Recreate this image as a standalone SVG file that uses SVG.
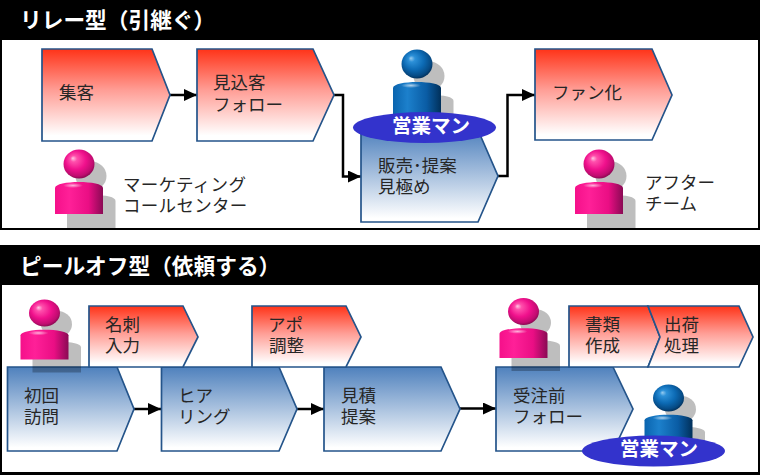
<svg xmlns="http://www.w3.org/2000/svg" width="760" height="475" viewBox="0 0 760 475">
<style>
.t{font-family:"Noto Sans CJK JP","Noto Sans",sans-serif;font-size:17.5px;fill:#262626}
.h{font-family:"Noto Sans CJK JP","Noto Sans",sans-serif;font-size:21.7px;font-weight:700;fill:#fff}
.b{font-family:"Noto Sans CJK JP","Noto Sans",sans-serif;font-size:19.5px;font-weight:700;fill:#fff}
.r{fill:url(#red);stroke:#24548a;stroke-width:1.7}
.u{fill:url(#blue);stroke:#24548a;stroke-width:1.7}
.e{fill:#3333cc}
.c{fill:none;stroke:#000;stroke-width:2.5;marker-end:url(#arr)}
.band{fill:#000}
.panel{fill:#fff}
</style>
<defs>
<linearGradient id="red" x1="0" y1="0" x2="0" y2="1"><stop offset="0" stop-color="#ff3318"/><stop offset=".45" stop-color="#ff9e96"/><stop offset=".94" stop-color="#fff"/></linearGradient>
<linearGradient id="blue" x1="0" y1="0" x2="0" y2="1"><stop offset="0" stop-color="#4f81bd"/><stop offset=".96" stop-color="#fff"/></linearGradient>
<linearGradient id="pb" x1="0" y1="0" x2="1" y2="0"><stop offset="0" stop-color="#f5108a"/><stop offset=".3" stop-color="#ff2098"/><stop offset=".7" stop-color="#ea0e84"/><stop offset="1" stop-color="#8a0a54"/></linearGradient>
<linearGradient id="ub" x1="0" y1="0" x2="1" y2="0"><stop offset="0" stop-color="#0a64ae"/><stop offset=".3" stop-color="#1c80cc"/><stop offset=".7" stop-color="#0a5ca4"/><stop offset="1" stop-color="#01305a"/></linearGradient>
<radialGradient id="ph" cx=".47" cy=".42" r=".6" fx=".3" fy=".3"><stop offset="0" stop-color="#ffc8e4"/><stop offset=".18" stop-color="#ff50ac"/><stop offset=".55" stop-color="#f0108c"/><stop offset=".85" stop-color="#c00c70"/><stop offset="1" stop-color="#80084c"/></radialGradient>
<radialGradient id="uh" cx=".47" cy=".42" r=".6" fx=".3" fy=".3"><stop offset="0" stop-color="#98ccf0"/><stop offset=".18" stop-color="#2c90d8"/><stop offset=".55" stop-color="#0c6ab4"/><stop offset=".85" stop-color="#064a84"/><stop offset="1" stop-color="#012c54"/></radialGradient>
<radialGradient id="gl"><stop offset="0" stop-color="#fff" stop-opacity=".65"/><stop offset="1" stop-color="#fff" stop-opacity="0"/></radialGradient>
<marker id="arr" viewBox="0 0 13 12" refX="13" refY="6" markerUnits="userSpaceOnUse" markerWidth="13" markerHeight="12" orient="auto"><path d="M0 0L13 6L0 12Z" fill="#000"/></marker>
<g id="sh" fill="#000" opacity=".25">
<path d="M-12 64V37C-12 33-4 31 12 31C28 31 36.500 33 36.500 37V64Z"/>
<ellipse cx="12" cy="12" rx="15.500" ry="14.500"/>
</g>
<g id="man-p">
<use href="#sh"/>
<ellipse cx="0" cy="0" rx="15.500" ry="14.500" fill="url(#ph)"/>
<path d="M-24 50V24C-24 20-12 18 0 18C12 18 24 20 24 24V50Z" fill="url(#pb)"/>
<ellipse cx="-6" cy="21.500" rx="10" ry="2.500" fill="url(#gl)"/>
</g>
<g id="man-u">
<use href="#sh"/>
<ellipse cx="0" cy="0" rx="15.500" ry="14.500" fill="url(#uh)"/>
<path d="M-24 50V24C-24 20-12 18 0 18C12 18 24 20 24 24V50Z" fill="url(#ub)"/>
<ellipse cx="-6" cy="21.500" rx="10" ry="2.500" fill="url(#gl)"/>
</g>
</defs>
<rect width="760" height="475" fill="#fff"/>
<g id="relay-panel">
<rect class="band" x="0" y="0" width="760" height="230"/>
<rect class="panel" x="2" y="40" width="756" height="188"/>
<text class="h" x="20" y="28">リレー型（引継ぐ）</text>
</g>
<g id="peeloff-panel">
<rect class="band" x="0" y="245" width="760" height="230"/>
<rect class="panel" x="2" y="285" width="756" height="187"/>
<text class="h" x="20" y="274">ピールオフ型（依頼する）</text>
</g>
<g id="connectors">
<path class="c" d="M170 95H197"/>
<path class="c" d="M334 95H343V176.500H361"/>
<path class="c" d="M498 176H507.500V95H535"/>
<path class="c" d="M134 409H161"/>
<path class="c" d="M297 409H324"/>
<path class="c" d="M460 408.500H496"/>
</g>
<g id="n-shukyaku"><path class="r" d="M42 49H152L170 95L152 141H42Z"/><text class="t" x="59" y="99">集客</text></g>
<g id="n-mikomi"><path class="r" d="M197 49H313L334 95L313 141H197Z"/><text class="t" x="213" y="89">見込客</text><text class="t" x="213" y="111">フォロー</text></g>
<g id="p-marketing"><use href="#man-p" transform="translate(79,164)"/><text class="t" x="123" y="191" letter-spacing=".3">マーケティング</text><text class="t" x="123" y="212" letter-spacing=".3">コールセンター</text></g>
<g id="n-sales"><use href="#man-u" transform="translate(417,64)"/><path class="u" d="M361 130H478L498 176L478 222H361Z"/><text class="t" x="378" y="172">販売･提案</text><text class="t" x="378" y="193">見極め</text><ellipse class="e" cx="424.500" cy="127.500" rx="71.500" ry="15.500"/><text class="b" x="392" y="133">営業マン</text></g>
<g id="n-fan"><path class="r" d="M535 49H652L672 95L652 140H535Z"/><text class="t" x="552" y="99">ファン化</text></g>
<g id="p-after"><use href="#man-p" transform="translate(599,164)"/><text class="t" x="645" y="189">アフター</text><text class="t" x="645" y="210">チーム</text></g>
<g id="n-shokai"><path class="u" d="M7.500 367H117L134 409L117 451H7.500Z"/><text class="t" x="24" y="402">初回</text><text class="t" x="24" y="423">訪問</text></g>
<g id="n-hearing"><path class="u" d="M161.500 367H279L297 409L279 451H161.500Z"/><text class="t" x="178" y="402">ヒア</text><text class="t" x="178" y="423">リング</text></g>
<g id="n-mitsumori"><path class="u" d="M324 367H441L460 409L441 451H324Z"/><text class="t" x="341" y="402">見積</text><text class="t" x="341" y="423">提案</text></g>
<g id="n-juchu"><path class="u" d="M496 367H613L633 409L613 451H496Z"/><text class="t" x="513" y="402">受注前</text><text class="t" x="513" y="423">フォロー</text></g>
<g id="n-meishi"><path class="r" d="M89 306H183L198 337L183 367H89Z"/><text class="t" x="105" y="331">名刺</text><text class="t" x="105" y="352">入力</text></g>
<g id="n-apo"><path class="r" d="M252 306H346L361 337L346 367H252Z"/><text class="t" x="268" y="331">アポ</text><text class="t" x="269" y="352">調整</text></g>
<g id="n-shorui"><path class="r" d="M569 306H648L660 337L648 367H569Z"/><text class="t" x="585" y="331">書類</text><text class="t" x="585" y="352">作成</text></g>
<g id="n-shukka"><path class="r" d="M648 306H739L753 337L739 367H648L660 337Z"/><text class="t" x="664" y="331">出荷</text><text class="t" x="664" y="352">処理</text></g>
<g id="p-peel1"><use href="#man-p" transform="translate(44.500,313) scale(1,.93)"/></g>
<g id="p-peel2"><use href="#man-p" transform="translate(523.500,311.500) scale(1,.93)"/></g>
<g id="p-sales2"><use href="#man-u" transform="translate(668.500,398) scale(1,.93)"/><ellipse class="e" cx="653.500" cy="451" rx="71.500" ry="15.500"/><text class="b" x="620" y="456">営業マン</text></g>
</svg>
